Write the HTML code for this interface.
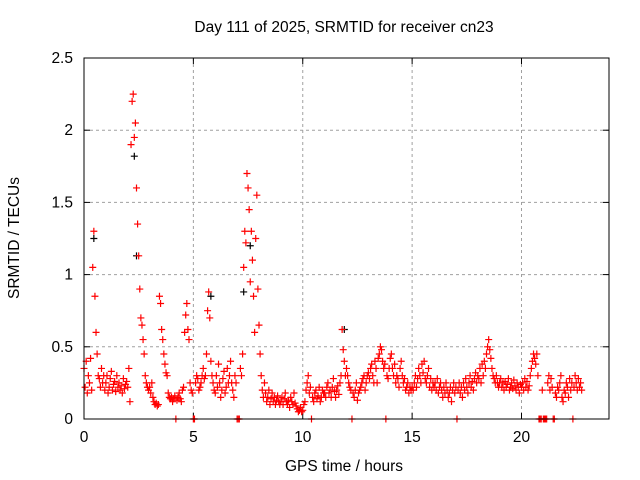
<!DOCTYPE html>
<html><head><meta charset="utf-8"><style>
body{margin:0;background:#fff}
svg{display:block;font-family:"Liberation Sans",sans-serif}
</style></head><body>
<svg id="chart" width="640" height="480" viewBox="0 0 640 480">
<text x="344" y="32" font-size="15.5" text-anchor="middle">Day 111 of 2025, SRMTID for receiver cn23</text>
<text x="344" y="471" font-size="15.5" text-anchor="middle">GPS time / hours</text>
<text x="0" y="0" font-size="15.5" text-anchor="middle" transform="translate(19,238) rotate(-90)">SRMTID / TECUs</text>
<g id="grid"></g>
<g id="ticks"></g>
<g id="points"></g>
<rect x="84" y="58" width="525" height="361" fill="none" stroke="#000" stroke-width="1"/>
</svg>
<script>
const xTicks=[0,5,10,15,20];
const yTicks=[0,0.5,1,1.5,2,2.5];
const yTickLabels=["0","0.5","1","1.5","2","2.5"];
const tStart=0, tStep=0.05;
const values=[
0.35,0.22,0.40,0.18,0.30,0.25,0.42,0.20,1.05,1.30,0.85,0.60,0.45,0.30,0.28,0.22,0.35,0.25,0.30,0.20,
0.25,0.30,0.18,0.22,0.28,0.33,0.20,0.24,0.26,0.19,0.30,0.22,0.25,0.20,0.23,0.18,0.28,0.21,0.24,0.26,
0.22,0.35,0.12,1.90,2.20,2.25,1.95,2.05,1.60,1.35,1.13,0.90,0.70,0.65,0.55,0.45,0.30,0.25,0.22,0.20,
0.22,0.18,0.25,0.15,0.12,0.10,0.11,0.09,0.10,0.85,0.80,0.62,0.55,0.45,0.38,0.32,0.30,0.18,0.15,0.14,
0.15,0.12,0.14,0.16,0.0,0.13,0.15,0.18,0.14,0.12,0.20,0.22,0.60,0.72,0.80,0.62,0.55,0.25,0.20,0.18,
0.0,0.0,0.25,0.30,0.28,0.20,0.22,0.25,0.30,0.35,0.28,0.30,0.45,0.75,0.88,0.70,0.40,0.30,0.25,0.20,
0.18,0.30,0.22,0.38,0.25,0.15,0.20,0.28,0.33,0.18,0.22,0.35,0.25,0.30,0.40,0.25,0.20,0.15,0.30,0.25,
0.0,0.0,0.0,0.35,0.30,0.45,1.05,1.30,1.22,1.70,1.60,1.45,0.95,1.30,1.10,0.85,0.60,1.25,1.55,0.90,
0.65,0.45,0.30,0.20,0.15,0.25,0.18,0.12,0.15,0.20,0.10,0.14,0.18,0.12,0.15,0.10,0.13,0.16,0.12,0.10,
0.12,0.15,0.10,0.14,0.18,0.12,0.10,0.13,0.08,0.15,0.12,0.10,0.18,0.11,0.09,0.07,0.05,0.06,0.08,0.05,
0.06,0.10,0.12,0.20,0.25,0.30,0.18,0.22,0.0,0.15,0.12,0.18,0.20,0.14,0.16,0.22,0.12,0.15,0.20,0.18,
0.18,0.15,0.22,0.25,0.18,0.20,0.15,0.22,0.28,0.19,0.15,0.20,0.23,0.17,0.25,0.30,0.62,0.48,0.40,0.30,
0.35,0.30,0.25,0.22,0.20,0.0,0.18,0.15,0.20,0.25,0.13,0.18,0.20,0.22,0.25,0.28,0.30,0.20,0.25,0.30,
0.32,0.28,0.35,0.38,0.30,0.25,0.40,0.35,0.25,0.42,0.45,0.50,0.48,0.40,0.35,0.38,0.0,0.30,0.28,0.35,
0.42,0.45,0.35,0.30,0.38,0.25,0.30,0.28,0.22,0.35,0.40,0.30,0.25,0.28,0.20,0.22,0.25,0.18,0.22,0.20,
0.22,0.20,0.25,0.30,0.22,0.28,0.35,0.30,0.25,0.38,0.32,0.40,0.28,0.25,0.30,0.35,0.22,0.28,0.20,0.25,
0.22,0.25,0.20,0.28,0.18,0.22,0.25,0.20,0.15,0.22,0.18,0.25,0.20,0.15,0.18,0.22,0.12,0.20,0.25,0.18,
0.22,0.0,0.20,0.25,0.18,0.22,0.15,0.25,0.20,0.28,0.22,0.18,0.25,0.30,0.22,0.26,0.20,0.28,0.32,0.25,
0.30,0.28,0.35,0.25,0.38,0.30,0.40,0.35,0.45,0.50,0.55,0.48,0.42,0.35,0.30,0.28,0.25,0.30,0.25,0.22,
0.25,0.28,0.22,0.25,0.20,0.26,0.22,0.24,0.28,0.20,0.22,0.25,0.21,0.27,0.23,0.20,0.25,0.22,0.18,0.24,
0.22,0.25,0.20,0.28,0.22,0.26,0.20,0.23,0.30,0.35,0.40,0.45,0.42,0.38,0.45,0.30,0.0,0.0,0.0,0.20,
0.0,0.0,0.0,0.0,0.25,0.30,0.20,0.28,0.22,0.0,0.0,0.18,0.15,0.22,0.20,0.25,0.30,0.15,0.12,0.20,
0.18,0.25,0.22,0.15,0.28,0.20,0.25,0.0,0.22,0.30,0.25,0.20,0.28,0.22,0.25,0.20
];
const blackTimes=[0.45,2.3,2.4,7.3,7.6,11.9,5.8];
const blackValues=[1.25,1.82,1.13,0.88,1.2,0.62,0.85];

const X0=84,X1=609,Y0=419,Y1=58,XMAX=24,YMAX=2.5;
const sx=t=>X0+(X1-X0)*t/XMAX;
const sy=v=>Y0-(Y0-Y1)*v/YMAX;
const NS="http://www.w3.org/2000/svg";
function mk(tag,attrs,parent){const e=document.createElementNS(NS,tag);for(const k in attrs)e.setAttribute(k,attrs[k]);parent.appendChild(e);return e;}
const grid=document.getElementById('grid'),ticks=document.getElementById('ticks'),pts=document.getElementById('points');
xTicks.forEach(t=>{
  const x=sx(t);
  if(t>0){const g=mk('line',{x1:x,y1:Y1,x2:x,y2:Y0,stroke:'#a0a0a0','stroke-dasharray':'3,3'},grid);
  
  }
  mk('line',{x1:x,y1:Y0,x2:x,y2:Y0-6,stroke:'#000'},ticks);
  mk('line',{x1:x,y1:Y1,x2:x,y2:Y1+6,stroke:'#000'},ticks);
  const l=mk('text',{x:x,y:Y0+23,'font-size':15.5,'text-anchor':'middle'},ticks);
  l.textContent=String(t);
  
  
});
yTicks.forEach((v,i)=>{
  const y=sy(v);
  if(v>0&&v<YMAX){const g=mk('line',{x1:X0,y1:y,x2:X1,y2:y,stroke:'#a0a0a0','stroke-dasharray':'3,3'},grid);
  
  }
  mk('line',{x1:X0,y1:y,x2:X0+6,y2:y,stroke:'#000'},ticks);
  mk('line',{x1:X1,y1:y,x2:X1-6,y2:y,stroke:'#000'},ticks);
  const l=mk('text',{x:X0-11,y:y+5,'font-size':15.5,'text-anchor':'end'},ticks);
  l.textContent=yTickLabels[i];
  
  
});
function plus(x,y,color){
  const p=mk('path',{d:`M${x-3.5},${y}H${x+3.5}M${x},${y-3.5}V${y+3.5}`,stroke:color,'stroke-width':1.2,fill:'none'},pts);
  
  
}
blackTimes.forEach((t,i)=>plus(sx(t),sy(blackValues[i]),'#000'));
values.forEach((v,i)=>plus(sx(tStart+i*tStep),sy(v),'#f00'));
</script>
</body></html>
